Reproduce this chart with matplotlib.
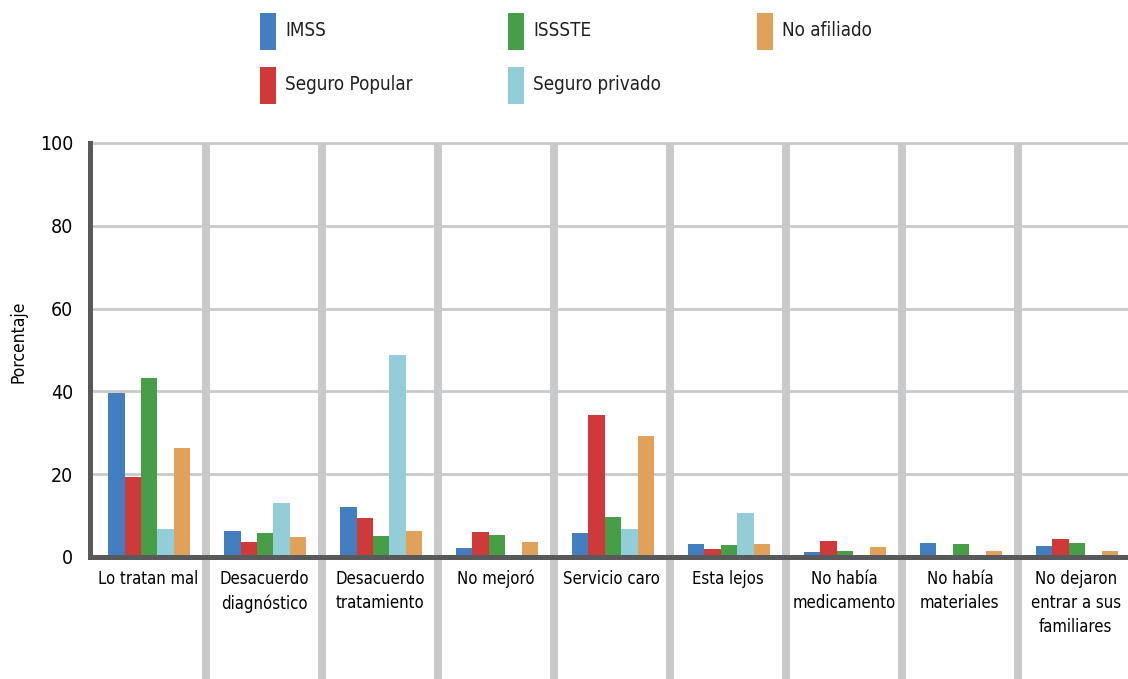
import matplotlib.pyplot as plt
from matplotlib.patches import Rectangle

# Motivos de no atención, porcentaje por afiliación
categorias = ["Lo tratan mal", "Desacuerdo\ndiagnóstico", "Desacuerdo\ntratamiento",
              "No mejoró", "Servicio caro", "Esta lejos", "No había\nmedicamento",
              "No había\nmateriales", "No dejaron\nentrar a sus\nfamiliares"]
series = ["IMSS", "Seguro Popular", "ISSSTE", "Seguro privado", "No afiliado"]
imss = [39.6, 6.3, 12.1, 2.2, 5.8, 3.2, 1.3, 3.4, 2.7]
seguro_popular = [19.4, 3.7, 9.5, 6.1, 34.3, 2.0, 3.9, 0.4, 4.4]
issste = [43.3, 5.8, 5.1, 5.4, 9.7, 2.9, 1.5, 3.2, 3.4]
seguro_privado = [6.8, 13.1, 48.8, 0, 6.8, 10.6, 0, 0, 0]
no_afiliado = [26.4, 4.9, 6.3, 3.7, 29.3, 3.2, 2.5, 1.5, 1.5]
y_ticks = [0, 20, 40, 60, 80, 100]

valores = [imss, seguro_popular, issste, seguro_privado, no_afiliado]
colores = ["#437ec1", "#d0393a", "#479e46", "#92cdd8", "#e0a15a"]
gris = "#c8c9cb"
oscuro = "#58595b"

plt.rcParams['font.family'] = ['DejaVu Sans']
plt.rcParams['font.stretch'] = 'condensed'
plt.rcParams['text.color'] = '#231f20'

W, H = 1128, 679
fig = plt.figure(figsize=(W / 100, H / 100), dpi=100)
ax = fig.add_axes([90 / W, 1 - 557 / H, 1 - 90 / W, 414 / H])

ancho = 0.1414
x = list(range(len(categorias)))
for k in range(len(series)):
    ax.bar([i + (k - 2) * ancho + 0.01 for i in x], valores[k], width=ancho,
           color=colores[k], zorder=3, linewidth=0)

# lineas de la cuadricula
for t in y_ticks[1:]:
    ax.axhline(t, color=gris, lw=2, zorder=1, clip_on=False)
for i in range(len(categorias) - 1):
    ax.axvline(i + 0.5, ymin=-0.3, ymax=1, color=gris, lw=5.8, zorder=2,
               clip_on=False, solid_capstyle='butt')

ax.set_xlim(-0.5, 8.45)
ax.set_ylim(0, 100)
ax.set_yticks(y_ticks)
ax.set_yticklabels([str(t) for t in y_ticks], fontsize=14)
ax.set_xticks(x)
ax.set_xticklabels(categorias, fontsize=12)
for lab in ax.get_xticklabels():
    lab.set_linespacing(1.45)
ax.tick_params(axis='both', length=0)
ax.tick_params(axis='y', pad=12)
ax.tick_params(axis='x', pad=9)

for s in ['top', 'right']:
    ax.spines[s].set_visible(False)
for s in ['left', 'bottom']:
    ax.spines[s].set_color(oscuro)
    ax.spines[s].set_linewidth(3.6)
    ax.spines[s].set_zorder(4)

ax.set_ylabel("Porcentaje", fontsize=12.5)
ax.yaxis.set_label_coords(-62 / (W - 90), 0.52)

# leyenda manual
col_x = [260, 508, 757]
fila_y = [13, 67]
posiciones = [(0, 0), (0, 1), (1, 0), (1, 1), (2, 0)]
for k, nombre in enumerate(series):
    c, f = posiciones[k]
    x0 = col_x[c]
    y0 = fila_y[f]
    fig.add_artist(Rectangle((x0 / W, 1 - (y0 + 37) / H), 16 / W, 37 / H,
                             transform=fig.transFigure, color=colores[k], lw=0))
    fig.text((x0 + 25) / W, 1 - (y0 + 17) / H, nombre, fontsize=13.5,
             ha='left', va='center')

plt.savefig("out.png", dpi=100)
